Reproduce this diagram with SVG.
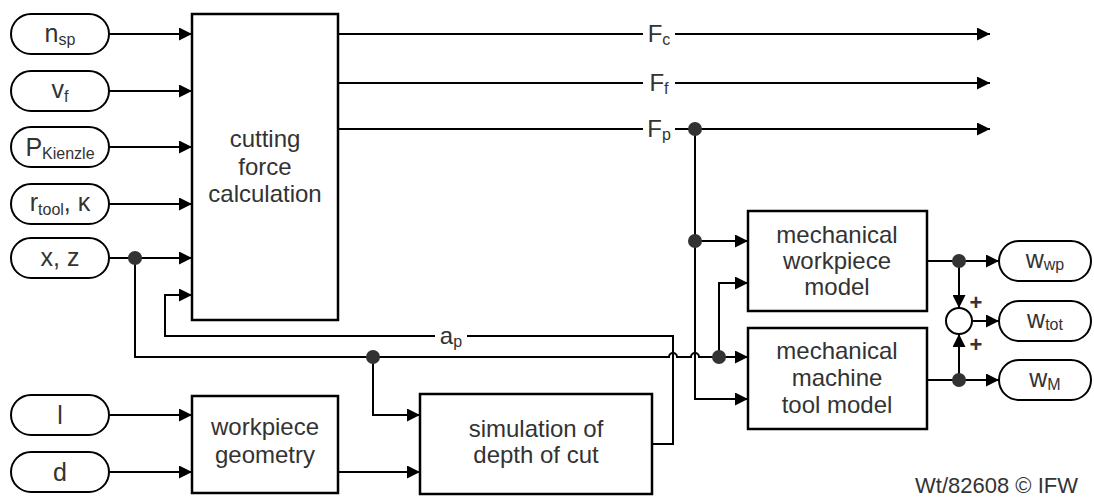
<svg xmlns="http://www.w3.org/2000/svg" width="1094" height="497" viewBox="0 0 1094 497">
<defs>
<marker id="ah" markerUnits="userSpaceOnUse" markerWidth="13" markerHeight="13" refX="13" refY="6.5" orient="auto">
<path d="M0,0 L13,6.5 L0,13 z" fill="#000"/>
</marker>
<style>
.box{fill:#fff;stroke:#000;stroke-width:2.5}
.pill{fill:#fff;stroke:#000;stroke-width:2}
.ln{fill:none;stroke:#000;stroke-width:2}
.arr{marker-end:url(#ah)}
.dot{fill:#333}
.t{font-family:"Liberation Sans",Arial,sans-serif;font-size:24px;fill:#333;text-anchor:middle}
.p{font-size:25px}
.s{font-size:16px}
.lbg{fill:#fff}
</style>
</defs>
<rect width="1094" height="497" fill="#fff"/>
<g id="connectors">
<path class="ln arr" d="M109,34 H192"/>
<path class="ln arr" d="M109,91 H192"/>
<path class="ln arr" d="M109,147 H192"/>
<path class="ln arr" d="M109,204 H192"/>
<path class="ln arr" d="M109,258 H192"/>
<path class="ln arr" d="M135,258 V357 H669 A4,4 0 0 1 677,357 H691 A4,4 0 0 1 699,357 H748"/>
<path class="ln arr" d="M373,357 V415 H420"/>
<path class="ln arr" d="M719,357 V283 H748"/>
<path class="ln arr" d="M109,415 H192"/>
<path class="ln arr" d="M109,472 H192"/>
<path class="ln arr" d="M338,472 H420"/>
<path class="ln arr" d="M652,444 H673 V336 H165 V295 H192"/>
<path class="ln arr" d="M338,34 H990"/>
<path class="ln arr" d="M338,83 H990"/>
<path class="ln arr" d="M338,129 H990"/>
<path class="ln arr" d="M695,129 V399 H748"/>
<path class="ln arr" d="M695,241 H748"/>
<path class="ln arr" d="M927,261 H999"/>
<path class="ln arr" d="M959,261 V308"/>
<path class="ln arr" d="M927,380 H999"/>
<path class="ln arr" d="M959,380 V334"/>
<path class="ln arr" d="M972,321 H999"/>
<circle class="dot" cx="135" cy="258" r="7"/>
<circle class="dot" cx="373" cy="357" r="7"/>
<circle class="dot" cx="719" cy="357" r="7"/>
<circle class="dot" cx="695" cy="129" r="7"/>
<circle class="dot" cx="695" cy="241" r="7"/>
<circle class="dot" cx="959" cy="261" r="7"/>
<circle class="dot" cx="959" cy="380" r="7"/>
<rect class="lbg" x="643" y="22" width="32" height="26"/>
<text class="t" x="659" y="42">F<tspan class="s" dy="3">c</tspan></text>
<rect class="lbg" x="643" y="71" width="32" height="26"/>
<text class="t" x="659" y="91">F<tspan class="s" dy="3">f</tspan></text>
<rect class="lbg" x="643" y="117" width="32" height="26"/>
<text class="t" x="659" y="137">F<tspan class="s" dy="3">p</tspan></text>
<rect class="lbg" x="435" y="324" width="32" height="26"/>
<text class="t" x="451" y="344">a<tspan class="s" dy="3">p</tspan></text>
</g>
<g id="in_nsp"><rect class="pill" x="11" y="14" width="98" height="40" rx="20"/><text class="t p" x="60" y="42">n<tspan class="s" dy="3">sp</tspan></text></g>
<g id="in_vf"><rect class="pill" x="11" y="71" width="98" height="40" rx="20"/><text class="t p" x="60" y="98">v<tspan class="s" dy="4">f</tspan></text></g>
<g id="in_p"><rect class="pill" x="11" y="127" width="98" height="40" rx="20"/><text class="t p" x="60" y="156">P<tspan class="s" dy="3">Kienzle</tspan></text></g>
<g id="in_r"><rect class="pill" x="11" y="184" width="98" height="40" rx="20"/><text class="t p" x="60" y="211">r<tspan class="s" dy="4">tool</tspan><tspan dy="-4">, κ</tspan></text></g>
<g id="in_xz"><rect class="pill" x="11" y="238" width="98" height="40" rx="20"/><text class="t p" x="60" y="266">x, z</text></g>
<g id="in_l"><rect class="pill" x="11" y="395" width="98" height="40" rx="20"/><text class="t p" x="60" y="424">l</text></g>
<g id="in_d"><rect class="pill" x="11" y="452" width="98" height="40" rx="20"/><text class="t p" x="60" y="481">d</text></g>
<g id="cutting"><rect class="box" x="192" y="14" width="146" height="306"/><text class="t" x="265" y="147">cutting</text><text class="t" x="265" y="175">force</text><text class="t" x="265" y="202">calculation</text></g>
<g id="geometry"><rect class="box" x="192" y="396" width="146" height="97"/><text class="t" x="265" y="435">workpiece</text><text class="t" x="265" y="463">geometry</text></g>
<g id="simulation"><rect class="box" x="420" y="394" width="232" height="100"/><text class="t" x="536" y="437">simulation of</text><text class="t" x="536" y="463">depth of cut</text></g>
<g id="wpmodel"><rect class="box" x="748" y="211" width="179" height="100"/><text class="t" x="837" y="243">mechanical</text><text class="t" x="837" y="269">workpiece</text><text class="t" x="837" y="295">model</text></g>
<g id="mtmodel"><rect class="box" x="748" y="328" width="179" height="101"/><text class="t" x="837" y="359">mechanical</text><text class="t" x="837" y="386">machine</text><text class="t" x="837" y="413">tool model</text></g>
<g id="sum"><circle cx="959" cy="321" r="13" fill="#fff" stroke="#000" stroke-width="2"/><text class="t" x="976" y="310" style="font-size:22px;font-weight:bold">+</text><text class="t" x="976" y="352" style="font-size:22px;font-weight:bold">+</text></g>
<g id="out_wp"><rect class="pill" x="999" y="241" width="92" height="40" rx="20"/><text class="t p" x="1045" y="268">w<tspan class="s" dy="2">wp</tspan></text></g>
<g id="out_tot"><rect class="pill" x="999" y="301" width="92" height="40" rx="20"/><text class="t p" x="1045" y="328">w<tspan class="s" dy="2">tot</tspan></text></g>
<g id="out_m"><rect class="pill" x="999" y="360" width="92" height="40" rx="20"/><text class="t p" x="1045" y="387">w<tspan class="s" dy="3">M</tspan></text></g>
<text class="t" x="1078" y="493" style="text-anchor:end;font-size:22px">Wt/82608 © IFW</text>
</svg>
